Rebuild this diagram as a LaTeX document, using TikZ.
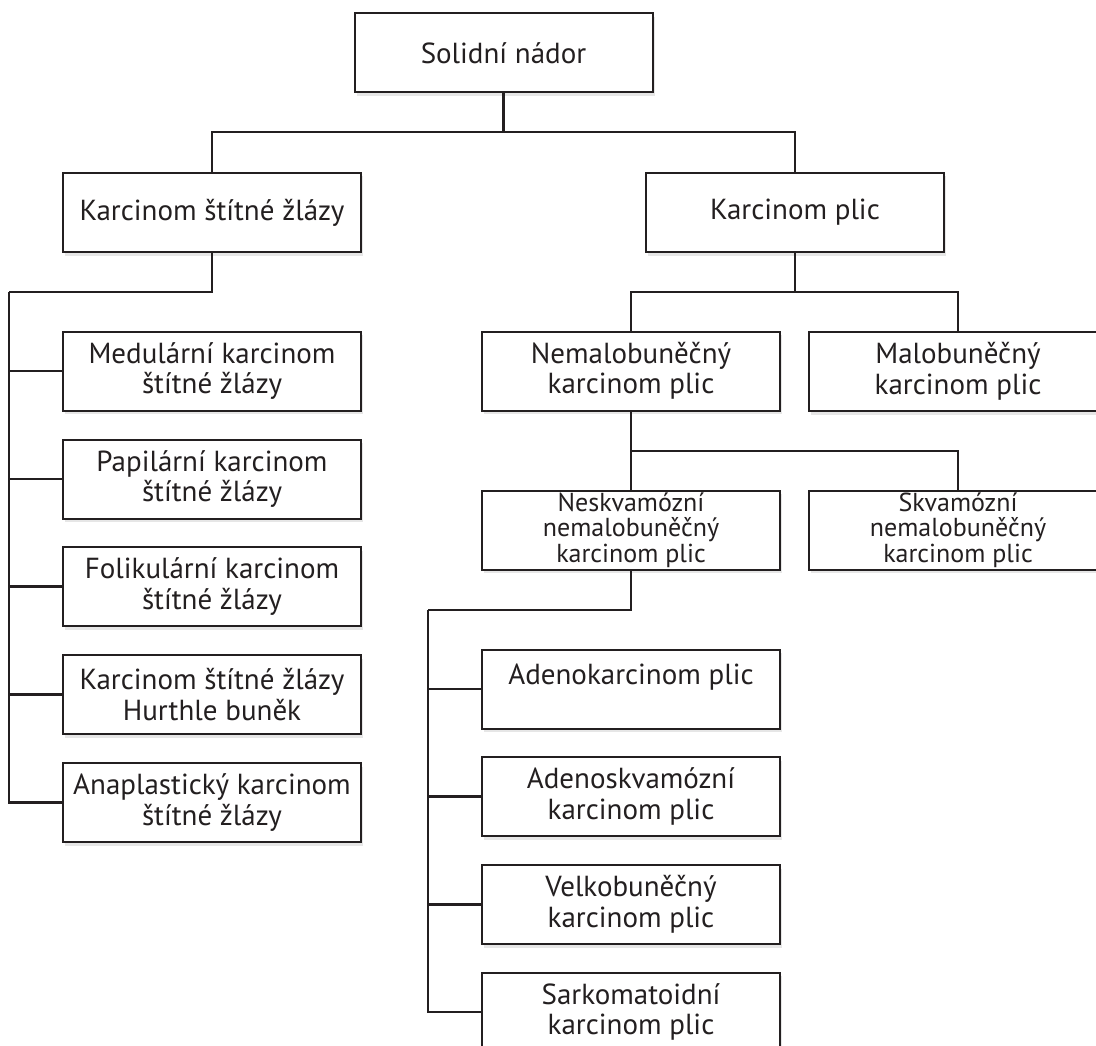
\documentclass[tikz,border=0pt]{standalone}
\usepackage{fontspec}
\setmainfont{PT Sans}
\usepackage{tikz}
\usetikzlibrary{shadows}

\begin{document}
\begin{tikzpicture}[x=1pt,y=-1pt,
  box/.style={draw=boxLineColor,line width=2pt,fill=white,text=boxLineColor,
    minimum width=298pt,minimum height=79pt,inner sep=0pt,align=center,
    font=\fontsize{29}{30.5}\selectfont,
    drop shadow={opacity=0.2,shadow xshift=2pt,shadow yshift=-3.5pt}},
  small box/.style={box,font=\fontsize{26}{25.5}\selectfont},
  link/.style={draw=boxLineColor,line width=2.8pt}]
\definecolor{boxLineColor}{RGB}{35,31,32}
\useasboundingbox (0,0) rectangle (1096,1046);
% top levels
\node[box] (root box) at (503.5,53) {Solidní nádor};
\node[box] (thyroid box) at (212,212.5) {Karcinom štítné žlázy};
\node[box] (lung box) at (795,212.5) {Karcinom plic};
% thyroid carcinomas
\node[box] (medullary box) at (212,371) {Medulární karcinom\\štítné žlázy};
\node[box] (papillary box) at (212,479) {Papilární karcinom\\štítné žlázy};
\node[box] (follicular box) at (212,586.5) {Folikulární karcinom\\štítné žlázy};
\node[box] (hurthle box) at (212,694.5) {Karcinom štítné žlázy\\Hurthle buněk};
\node[box] (anaplastic box) at (212,802.5) {Anaplastický karcinom\\štítné žlázy};
% lung carcinomas
\node[box] (nsclc box) at (631,371) {Nemalobuněčný\\karcinom plic};
\node[box] (sclc box) at (958,371.5) {Malobuněčný\\karcinom plic};
\node[small box] (nonsquamous box) at (631,530) {Neskvamózní\\nemalobuněčný\\karcinom plic};
\node[small box] (squamous box) at (958,530) {Skvamózní\\nemalobuněčný\\karcinom plic};
\node[box] (adeno box) at (631,689) {Adenokarcinom plic\\~};
\node[box] (adenosquamous box) at (631,796.5) {Adenoskvamózní\\karcinom plic};
\node[box] (large box) at (631,904.5) {Velkobuněčný\\karcinom plic};
\node[box] (sarcomatoid box) at (631,1012) {Sarkomatoidní\\karcinom plic};
% connectors
\coordinate (root bus) at (503.5,132);
\coordinate (thyroid bus) at (9,292);
\coordinate (lung bus) at (795,292);
\coordinate (nsclc bus) at (631,451);
\coordinate (nonsquamous bus) at (428,610);
\draw[link] (root box.south) -- (root bus) -| (thyroid box.north);
\draw[link] (root bus) -| (lung box.north);
\draw[link] (thyroid box.south) |- (thyroid bus);
\foreach \n in {medullary,papillary,follicular,hurthle,anaplastic}
  \draw[link] (thyroid bus) |- (\n\space box.west);
\draw[link] (lung box.south) -- (lung bus) -| (nsclc box.north);
\draw[link] (lung bus) -| (sclc box.north);
\draw[link] (nsclc box.south) -- (nsclc bus) -| (squamous box.north);
\draw[link] (nsclc bus) -- (nonsquamous box.north);
\draw[link] (nonsquamous box.south) |- (nonsquamous bus);
\foreach \n in {adeno,adenosquamous,large,sarcomatoid}
  \draw[link] (nonsquamous bus) |- (\n\space box.west);
\end{tikzpicture}
\end{document}
